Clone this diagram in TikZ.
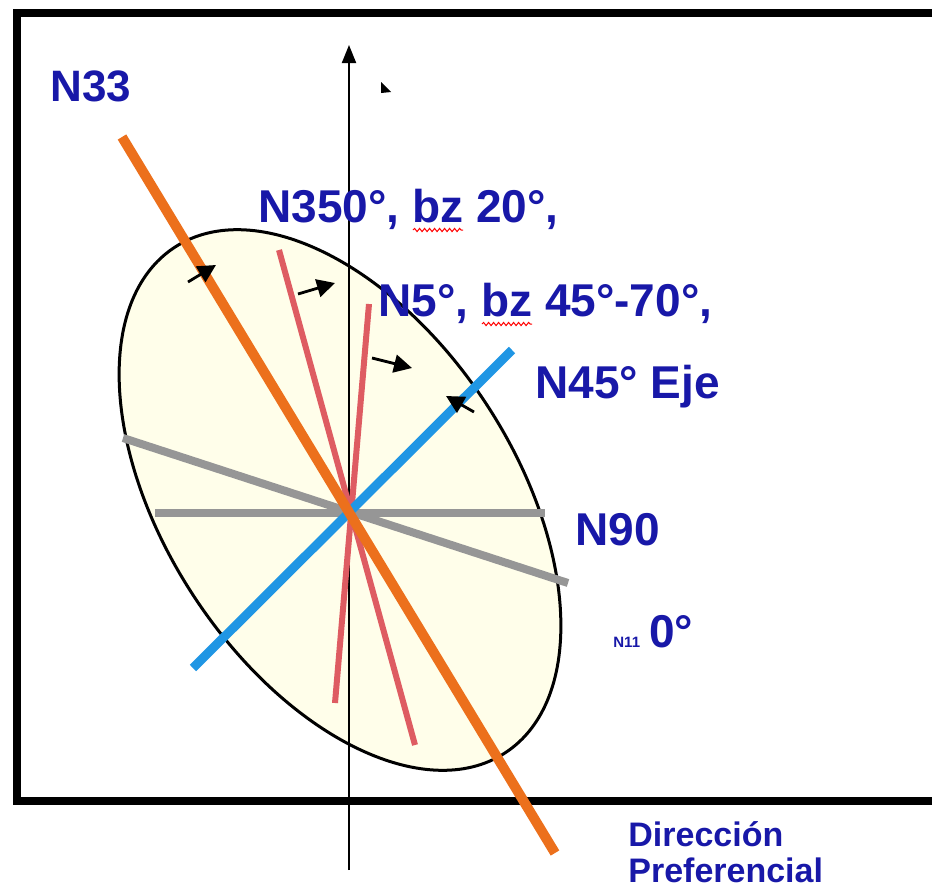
\documentclass[tikz,border=0pt]{standalone}
\usepackage{fontspec}
\setmainfont{Liberation Sans}
\usetikzlibrary{arrows.meta,decorations.pathmorphing}

\definecolor{labelblue}{RGB}{24,24,168}
\definecolor{prefcol}{RGB}{236,112,28}
\definecolor{ejecol}{RGB}{32,150,228}
\definecolor{planecol}{RGB}{150,150,150}
\definecolor{bzcol}{RGB}{222,92,98}
\definecolor{ellfill}{RGB}{255,254,234}

\begin{document}
\begin{tikzpicture}[x=0.5pt,y=-0.5pt,
  lbl/.style={text=labelblue, font=\fontsize{23}{27}\selectfont\bfseries, inner sep=0pt, anchor=base west},
  small/.style={-{Triangle[length=9pt,width=9pt]}, line width=1.4pt},
  squig/.style={draw=red, line width=0.5pt, decorate, decoration={snake, segment length=2.5pt, amplitude=0.8pt}}]
\useasboundingbox (0,0) rectangle (932,889);
% frame, open on the right
\draw[line width=4pt] (932,13) -- (17,13) -- (17,801) -- (932,801);
% ellipse
\filldraw[fill=ellfill, draw=black, line width=1.5pt, rotate around={-56.8:(340,500)}]
  (340,500) ellipse [x radius=302, y radius=175];
% north axis
\coordinate (O) at (349,513);
\draw[line width=1pt, -{Triangle[length=9pt, width=7pt]}] (349,870) -- (349,45);
\fill (381,82) -- (391,92) -- (381,93) -- cycle;
% planes
\draw[planecol, line width=4pt] (155,513) -- (545,513);
\draw[planecol, line width=4pt] (123,438) -- (568,583);
\draw[bzcol, line width=3pt] (279,250) -- (415,745);
\draw[bzcol, line width=3pt] (369,304) -- (335,703);
\draw[ejecol, line width=4.5pt] (193,668) -- (512,350);
\draw[prefcol, line width=5pt] (122,137) -- (555,853);
% small arrows
\draw[small] (188,282) -- (216,265);
\draw[small] (298,294) -- (335,283);
\draw[small] (372,358) -- (412,368);
\draw[small] (474,412) -- (446,396);
% labels
\node[lbl, font=\fontsize{22}{26}\selectfont\bfseries] (n33) at (50,101) {N33};
\node[lbl] (n350) at (258,222) {N350°, bz 20°,};
\node[lbl] (n5) at (378,316) {N5°, bz 45°-70°,};
\node[lbl] (n45) at (535,398) {N45° Eje};
\node[lbl] (n90) at (575,545) {N90};
\node[lbl] (n110) at (613,647) {{\fontsize{7.5}{9}\selectfont N11}\hspace{4.5pt}0°};
\node[lbl, font=\fontsize{17}{18}\selectfont\bfseries, align=left] (dir) at (628,882) {Dirección\\Preferencial};
\draw[squig] (413,230) -- (463,230);
\draw[squig] (482,324) -- (532,324);
\end{tikzpicture}
\end{document}
